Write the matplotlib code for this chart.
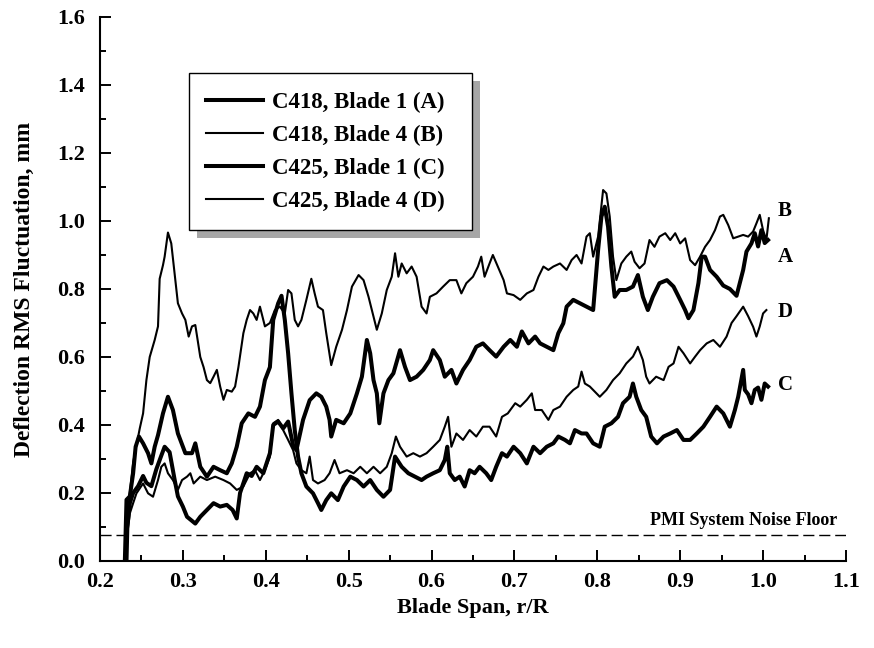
import matplotlib
matplotlib.use("Agg")
import matplotlib.pyplot as plt
from matplotlib.patches import Rectangle
from matplotlib.ticker import MultipleLocator

plt.rcParams['font.family'] = 'serif'
plt.rcParams['font.serif'] = ['Liberation Serif', 'DejaVu Serif']
plt.rcParams['font.weight'] = 'bold'

# C418, Blade 4 (B) - thin, top curve
b_x = [0.233, 0.236, 0.240, 0.244, 0.248, 0.252, 0.254, 0.256, 0.260, 0.266, 0.270, 0.272, 0.276, 0.278,
       0.282, 0.286, 0.290, 0.294, 0.299, 0.303, 0.307, 0.311, 0.315, 0.321, 0.325, 0.329, 0.333, 0.337,
       0.341, 0.345, 0.349, 0.353, 0.359, 0.363, 0.367, 0.373, 0.377, 0.381, 0.385, 0.389, 0.393, 0.399,
       0.405, 0.411, 0.417, 0.423, 0.427, 0.431, 0.435, 0.439, 0.443, 0.449, 0.455, 0.459, 0.463, 0.469,
       0.473, 0.479, 0.485, 0.492, 0.498, 0.504, 0.512, 0.518, 0.524, 0.530, 0.534, 0.540, 0.546, 0.552,
       0.556, 0.560, 0.564, 0.570, 0.576, 0.582, 0.588, 0.594, 0.598, 0.606, 0.614, 0.622, 0.630, 0.636,
       0.642, 0.650, 0.656, 0.660, 0.664, 0.670, 0.674, 0.680, 0.687, 0.691, 0.699, 0.707, 0.715, 0.723,
       0.729, 0.735, 0.741, 0.747, 0.755, 0.763, 0.769, 0.775, 0.781, 0.787, 0.791, 0.795, 0.801, 0.807,
       0.811, 0.815, 0.819, 0.823, 0.829, 0.835, 0.841, 0.845, 0.851, 0.857, 0.863, 0.869, 0.875, 0.882,
       0.888, 0.894, 0.900, 0.906, 0.912, 0.918, 0.924, 0.930, 0.936, 0.942, 0.948, 0.952, 0.958, 0.964,
       0.970, 0.976, 0.982, 0.988, 0.992, 0.996, 1.000, 1.004, 1.007]
b_y = [0.12, 0.20, 0.29, 0.34, 0.39, 0.434, 0.483, 0.532, 0.60, 0.65, 0.69, 0.83, 0.87, 0.895,
       0.966, 0.934, 0.846, 0.758, 0.728, 0.709, 0.66, 0.69, 0.694, 0.60, 0.57, 0.532, 0.523, 0.542,
       0.562, 0.513, 0.474, 0.503, 0.498, 0.513, 0.57, 0.67, 0.709, 0.738, 0.728, 0.709, 0.748, 0.69,
       0.70, 0.738, 0.748, 0.728, 0.797, 0.787, 0.709, 0.69, 0.709, 0.768, 0.83, 0.787, 0.748, 0.738,
       0.67, 0.576, 0.63, 0.68, 0.738, 0.807, 0.841, 0.826, 0.777, 0.719, 0.68, 0.728, 0.797, 0.836,
       0.905, 0.836, 0.875, 0.846, 0.866, 0.836, 0.748, 0.728, 0.777, 0.787, 0.807, 0.826, 0.826, 0.787,
       0.817, 0.836, 0.866, 0.895, 0.836, 0.875, 0.90, 0.866, 0.826, 0.787, 0.782, 0.768, 0.787, 0.797,
       0.836, 0.866, 0.856, 0.866, 0.875, 0.856, 0.885, 0.90, 0.875, 0.954, 0.964, 0.895, 0.954, 1.091,
       1.081, 1.013, 0.895, 0.826, 0.875, 0.895, 0.91, 0.88, 0.861, 0.875, 0.944, 0.924, 0.954, 0.964,
       0.944, 0.964, 0.934, 0.949, 0.885, 0.87, 0.895, 0.924, 0.944, 0.973, 1.013, 1.018, 0.988, 0.949,
       0.954, 0.959, 0.954, 0.969, 0.993, 1.018, 0.973, 0.944, 1.008]

# C418, Blade 1 (A) - thick
a_x = [0.232, 0.233, 0.236, 0.240, 0.246, 0.252, 0.256, 0.262, 0.268, 0.274, 0.278, 0.284, 0.290, 0.294,
       0.300, 0.305, 0.310, 0.315, 0.321, 0.329, 0.337, 0.345, 0.353, 0.360, 0.365, 0.369, 0.377, 0.383,
       0.389, 0.397, 0.405, 0.409, 0.415, 0.421, 0.427, 0.433, 0.437, 0.445, 0.453, 0.461, 0.467, 0.473,
       0.477, 0.479, 0.485, 0.494, 0.502, 0.510, 0.516, 0.522, 0.526, 0.530, 0.534, 0.537, 0.542, 0.548,
       0.554, 0.562, 0.568, 0.574, 0.582, 0.590, 0.598, 0.602, 0.610, 0.616, 0.624, 0.630, 0.638, 0.646,
       0.654, 0.662, 0.670, 0.678, 0.687, 0.695, 0.703, 0.709, 0.717, 0.725, 0.731, 0.739, 0.747, 0.753,
       0.759, 0.763, 0.771, 0.779, 0.787, 0.795, 0.801, 0.805, 0.809, 0.813, 0.817, 0.821, 0.827, 0.835,
       0.843, 0.849, 0.855, 0.861, 0.867, 0.875, 0.884, 0.892, 0.900, 0.906, 0.910, 0.916, 0.922, 0.926,
       0.930, 0.936, 0.944, 0.952, 0.960, 0.968, 0.976, 0.980, 0.986, 0.990, 0.994, 0.998, 1.002, 1.006]
a_y = [0.0, 0.10, 0.17, 0.20, 0.22, 0.25, 0.23, 0.22, 0.27, 0.31, 0.336, 0.32, 0.24, 0.19,
       0.16, 0.13, 0.12, 0.11, 0.13, 0.15, 0.17, 0.16, 0.165, 0.15, 0.125, 0.20, 0.258, 0.25,
       0.277, 0.258, 0.317, 0.40, 0.41, 0.39, 0.41, 0.34, 0.326, 0.415, 0.473, 0.493, 0.483, 0.454,
       0.415, 0.366, 0.415, 0.405, 0.434, 0.493, 0.542, 0.65, 0.611, 0.532, 0.493, 0.405, 0.493, 0.532,
       0.552, 0.62, 0.571, 0.532, 0.542, 0.562, 0.591, 0.62, 0.591, 0.542, 0.562, 0.522, 0.562, 0.591,
       0.63, 0.64, 0.62, 0.601, 0.63, 0.65, 0.63, 0.675, 0.64, 0.66, 0.64, 0.63, 0.62, 0.67,
       0.699, 0.748, 0.768, 0.758, 0.748, 0.738, 0.915, 1.013, 1.042, 0.983, 0.866, 0.777, 0.797, 0.797,
       0.807, 0.841, 0.777, 0.738, 0.777, 0.817, 0.826, 0.807, 0.768, 0.738, 0.714, 0.738, 0.817, 0.895,
       0.895, 0.856, 0.836, 0.81, 0.80, 0.78, 0.856, 0.91, 0.934, 0.964, 0.925, 0.973, 0.935, 0.944]

# C425, Blade 4 (D) - thin
d_x = [0.234, 0.236, 0.240, 0.244, 0.252, 0.258, 0.264, 0.270, 0.274, 0.278, 0.282, 0.288, 0.294, 0.299,
       0.305, 0.309, 0.313, 0.321, 0.329, 0.339, 0.349, 0.357, 0.365, 0.373, 0.381, 0.387, 0.393, 0.399,
       0.405, 0.409, 0.415, 0.421, 0.427, 0.433, 0.437, 0.443, 0.449, 0.453, 0.457, 0.463, 0.471, 0.477,
       0.483, 0.489, 0.498, 0.506, 0.514, 0.522, 0.530, 0.538, 0.546, 0.552, 0.557, 0.562, 0.570, 0.578,
       0.586, 0.594, 0.602, 0.610, 0.616, 0.620, 0.624, 0.630, 0.638, 0.646, 0.654, 0.662, 0.670, 0.678,
       0.685, 0.692, 0.701, 0.707, 0.715, 0.721, 0.725, 0.733, 0.741, 0.747, 0.755, 0.763, 0.771, 0.777,
       0.781, 0.785, 0.791, 0.795, 0.803, 0.811, 0.819, 0.827, 0.835, 0.843, 0.849, 0.855, 0.859, 0.863,
       0.871, 0.880, 0.886, 0.892, 0.898, 0.904, 0.912, 0.918, 0.924, 0.932, 0.940, 0.948, 0.956, 0.962,
       0.968, 0.976, 0.982, 0.988, 0.992, 0.996, 1.000, 1.004]
d_y = [0.10, 0.14, 0.17, 0.199, 0.228, 0.199, 0.189, 0.238, 0.277, 0.287, 0.258, 0.238, 0.209, 0.238,
       0.248, 0.258, 0.228, 0.248, 0.238, 0.248, 0.238, 0.228, 0.209, 0.219, 0.258, 0.267, 0.238, 0.267,
       0.307, 0.405, 0.415, 0.385, 0.356, 0.326, 0.287, 0.267, 0.258, 0.307, 0.238, 0.228, 0.238, 0.258,
       0.297, 0.258, 0.267, 0.258, 0.277, 0.258, 0.277, 0.258, 0.277, 0.317, 0.366, 0.336, 0.307, 0.317,
       0.307, 0.317, 0.336, 0.356, 0.395, 0.424, 0.336, 0.375, 0.356, 0.385, 0.366, 0.395, 0.395, 0.366,
       0.424, 0.434, 0.464, 0.454, 0.474, 0.493, 0.444, 0.444, 0.415, 0.444, 0.454, 0.483, 0.503, 0.513,
       0.557, 0.522, 0.513, 0.503, 0.483, 0.503, 0.532, 0.552, 0.581, 0.601, 0.63, 0.591, 0.542, 0.522,
       0.542, 0.532, 0.571, 0.581, 0.63, 0.611, 0.581, 0.601, 0.62, 0.64, 0.65, 0.63, 0.66, 0.70,
       0.72, 0.748, 0.72, 0.689, 0.66, 0.69, 0.728, 0.738]

# C425, Blade 1 (C) - thick, bottom at the tip
c_x = [0.230, 0.232, 0.236, 0.240, 0.243, 0.247, 0.252, 0.258, 0.262, 0.266, 0.270, 0.276, 0.282, 0.288,
       0.294, 0.303, 0.311, 0.315, 0.321, 0.329, 0.337, 0.345, 0.353, 0.359, 0.365, 0.371, 0.379, 0.387,
       0.393, 0.399, 0.405, 0.409, 0.415, 0.419, 0.423, 0.427, 0.431, 0.435, 0.439, 0.443, 0.449, 0.457,
       0.463, 0.467, 0.473, 0.479, 0.487, 0.494, 0.502, 0.510, 0.518, 0.526, 0.534, 0.542, 0.550, 0.556,
       0.564, 0.572, 0.580, 0.588, 0.594, 0.602, 0.610, 0.616, 0.619, 0.622, 0.628, 0.634, 0.640, 0.646,
       0.652, 0.658, 0.666, 0.672, 0.678, 0.685, 0.691, 0.699, 0.707, 0.715, 0.723, 0.731, 0.739, 0.747,
       0.753, 0.761, 0.767, 0.773, 0.781, 0.787, 0.795, 0.803, 0.809, 0.817, 0.825, 0.831, 0.839, 0.843,
       0.847, 0.853, 0.859, 0.865, 0.872, 0.880, 0.888, 0.896, 0.904, 0.912, 0.920, 0.928, 0.936, 0.944,
       0.952, 0.960, 0.966, 0.970, 0.976, 0.978, 0.982, 0.986, 0.990, 0.994, 0.998, 1.002, 1.006]
c_y = [0.0, 0.18, 0.19, 0.258, 0.336, 0.366, 0.346, 0.317, 0.287, 0.336, 0.37, 0.434, 0.483, 0.444,
       0.375, 0.317, 0.317, 0.346, 0.277, 0.248, 0.277, 0.267, 0.258, 0.287, 0.336, 0.405, 0.434, 0.424,
       0.454, 0.532, 0.57, 0.709, 0.758, 0.78, 0.709, 0.611, 0.493, 0.385, 0.307, 0.258, 0.219, 0.199,
       0.17, 0.15, 0.179, 0.199, 0.179, 0.219, 0.248, 0.238, 0.219, 0.238, 0.209, 0.189, 0.209, 0.307,
       0.277, 0.258, 0.248, 0.238, 0.248, 0.258, 0.267, 0.297, 0.336, 0.258, 0.238, 0.248, 0.219, 0.267,
       0.258, 0.277, 0.258, 0.238, 0.277, 0.317, 0.307, 0.336, 0.317, 0.287, 0.336, 0.317, 0.336, 0.346,
       0.366, 0.356, 0.346, 0.385, 0.375, 0.375, 0.346, 0.336, 0.395, 0.405, 0.424, 0.464, 0.483, 0.522,
       0.483, 0.444, 0.424, 0.366, 0.346, 0.366, 0.375, 0.385, 0.356, 0.356, 0.375, 0.395, 0.424, 0.454,
       0.434, 0.395, 0.444, 0.483, 0.562, 0.503, 0.49, 0.464, 0.503, 0.51, 0.474, 0.522, 0.513]

noise_floor = 0.075
series = [
    ("C418, Blade 1 (A)", a_x, a_y, 2.9),
    ("C418, Blade 4 (B)", b_x, b_y, 1.5),
    ("C425, Blade 1 (C)", c_x, c_y, 2.9),
    ("C425, Blade 4 (D)", d_x, d_y, 1.5),
]
end_labels = [("B", 1.03), ("A", 0.894), ("D", 0.732), ("C", 0.518)]

fig = plt.figure(figsize=(8.74, 6.48), dpi=100)
ax = fig.add_axes([0.1144, 0.1343, 0.8535, 0.8395])

for name, xs, ys, lw in series:
    ax.plot(xs, ys, color='black', lw=lw, label=name, solid_joinstyle='round')

ax.axhline(noise_floor, color='black', lw=1.0, ls=(0, (8, 3.5)))
ax.text(1.09, 0.12, "PMI System Noise Floor", ha='right', va='center', fontsize=13, fontweight='bold')

for lab, yv in end_labels:
    ax.text(1.018, yv, lab, ha='left', va='center', fontsize=15, fontweight='bold')

ax.set_xlim(0.2, 1.1)
ax.set_ylim(0.0, 1.6)
ax.xaxis.set_major_locator(MultipleLocator(0.1))
ax.xaxis.set_minor_locator(MultipleLocator(0.05))
ax.yaxis.set_major_locator(MultipleLocator(0.2))
ax.yaxis.set_minor_locator(MultipleLocator(0.1))
ax.xaxis.set_major_formatter(plt.FormatStrFormatter('%.1f'))
ax.yaxis.set_major_formatter(plt.FormatStrFormatter('%.1f'))

for side in ['top', 'right']:
    ax.spines[side].set_visible(False)
for side in ['left', 'bottom']:
    ax.spines[side].set_linewidth(1.5)

ax.tick_params(which='both', direction='in', width=1.4, labelsize=16)
ax.tick_params(which='major', length=8)
ax.tick_params(which='minor', length=4)
ax.tick_params(axis='x', pad=8)
ax.tick_params(axis='y', pad=11)

ax.set_xlabel("Blade Span, r/R", fontsize=16, fontweight='bold', labelpad=4)
ax.set_ylabel("Deflection RMS Fluctuation, mm", fontsize=17, fontweight='bold', labelpad=16)

# legend box with offset shadow
bx0, by0, bw, bh = 0.1193, 0.6085, 0.3794, 0.2885
ax.add_patch(Rectangle((bx0 + 0.0107, by0 - 0.0147), bw, bh, transform=ax.transAxes,
                       facecolor='#a6a6a6', edgecolor='none', zorder=4))
ax.add_patch(Rectangle((bx0, by0), bw, bh, transform=ax.transAxes,
                       facecolor='white', edgecolor='black', lw=1.0, zorder=4.5))
leg = ax.legend(loc='upper left', bbox_to_anchor=(0.142, 0.8625), frameon=False,
                borderpad=0, borderaxespad=0, handlelength=2.5, handletextpad=0.4,
                labelspacing=0.52, prop={'size': 16.5, 'weight': 'bold'})
leg.set_zorder(5)

fig.savefig("out.png", dpi=100)
